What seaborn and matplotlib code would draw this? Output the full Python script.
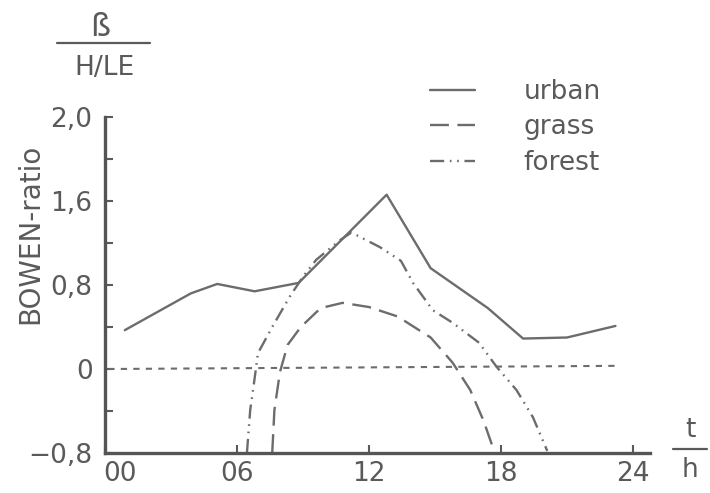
import matplotlib
matplotlib.use("Agg")
import matplotlib.pyplot as plt
import matplotlib.transforms as mtransforms
from matplotlib.lines import Line2D
import seaborn as sns
import pandas as pd

# ---- data ----
urban_h = [0.9, 3.9, 5.1, 6.8, 8.8, 12.8, 14.8, 17.4, 19.0, 21.0, 23.2]
urban_v = [0.37, 0.72, 0.81, 0.74, 0.82, 1.66, 0.96, 0.58, 0.29, 0.30, 0.41]

grass_h = [7.6, 7.7, 7.95, 8.3, 8.9, 9.8, 10.8, 12.0, 13.3, 14.8, 15.8, 16.6, 17.2, 17.65]
grass_v = [-0.80, -0.39, -0.03, 0.23, 0.40, 0.58, 0.63, 0.59, 0.50, 0.30, 0.06, -0.20, -0.49, -0.76]

forest_h = [6.45, 6.6, 6.8, 6.95, 7.6, 8.4, 9.0, 9.6, 10.7, 11.2, 12.5, 13.45, 14.0,
            14.9, 15.8, 17.0, 17.8, 18.7, 19.45, 20.1]
forest_v = [-0.80, -0.39, -0.09, 0.15, 0.40, 0.69, 0.88, 1.04, 1.23, 1.30, 1.16, 1.03, 0.82,
            0.56, 0.44, 0.25, 0.02, -0.20, -0.46, -0.78]

zero_h = [0.15, 23.2]
zero_v = [0.0, 0.03]

series_names = ["urban", "grass", "forest"]
x_ticks = [0, 6, 12, 18, 24]
x_ticklabels = ["00", "06", "12", "18", "24"]
y_ticks_major = [-0.8, 0.0, 0.8, 1.6, 2.4]
y_ticklabels = ["\u22120,8", "0", "0,8", "1,6", "2,0"]
y_ticks_minor = [-0.4, 0.4, 1.2, 2.0]

# ---- style ----
sns.set_style("white")
plt.rcParams["font.family"] = ["DejaVu Sans"]
ink = "#5a5a5a"
line_col = "#6c6c6c"
fs = 19

fig = plt.figure(figsize=(7.1, 4.93), dpi=100)
ax = fig.add_axes([105 / 710, 1 - 453 / 493, 545 / 710, 336 / 493])

lw = 1.7
styles = {
    "urban": dict(linestyle="-"),
    "grass": dict(dashes=(8, 3.6)),
    "forest": dict(dashes=(6, 2.4, 0.7, 2.4, 0.7, 2.4)),
}
data = {
    "urban": (urban_h, urban_v),
    "grass": (grass_h, grass_v),
    "forest": (forest_h, forest_v),
}
for name in series_names:
    h, v = data[name]
    df = pd.DataFrame({"h": h, "v": v})
    sns.lineplot(data=df, x="h", y="v", ax=ax, color=line_col, lw=lw,
                 sort=False, estimator=None, **styles[name])

dfz = pd.DataFrame({"h": zero_h, "v": zero_v})
sns.lineplot(data=dfz, x="h", y="v", ax=ax, color=line_col, lw=1.5,
             sort=False, estimator=None, dashes=(3.0, 3.0))

ax.set_xlim(0, 24.77)
ax.set_ylim(-0.8, 2.4)
ax.set_xlabel("")
ax.set_ylabel("")

for s in ["top", "right"]:
    ax.spines[s].set_visible(False)
for s in ["left", "bottom"]:
    ax.spines[s].set_color("#555555")
    ax.spines[s].set_linewidth(2.4)

ax.set_xticks(x_ticks)
ax.set_xticklabels(x_ticklabels)
ax.set_yticks(y_ticks_major)
ax.set_yticklabels(y_ticklabels)
ax.set_yticks(y_ticks_minor, minor=True)
ax.tick_params(axis="both", which="both", direction="in", colors=ink,
               labelcolor=ink, labelsize=fs, width=1.5, left=True, bottom=True)
ax.tick_params(axis="y", which="both", length=6, pad=9)
ax.tick_params(axis="x", which="major", length=6, pad=6)
# shift "00" label slightly right as in reference
offset = mtransforms.ScaledTranslation(15 / 100, 0, fig.dpi_scale_trans)
ax.get_xticklabels()[0].set_transform(ax.get_xticklabels()[0].get_transform() + offset)

# y axis title
fig.text(30 / 710, 1 - 234 / 493, "BOWEN-ratio", rotation=90, ha="center",
         va="center", fontsize=20, color=ink)

# top-left fraction label
fig.text(100 / 710, 1 - 28 / 493, "ß", ha="center", va="center", fontsize=23, color=ink)
fig.add_artist(Line2D([57 / 710, 150 / 710], [1 - 43 / 493, 1 - 43 / 493],
                      color=ink, lw=1.6, transform=fig.transFigure))
fig.text(104 / 710, 1 - 68 / 493, "H/LE", ha="center", va="center", fontsize=fs, color=ink)

# right x-axis fraction label
fig.text(690 / 710, 1 - 430 / 493, "t", ha="center", va="center", fontsize=fs, color=ink)
fig.add_artist(Line2D([673 / 710, 707 / 710], [1 - 449 / 493, 1 - 449 / 493],
                      color=ink, lw=1.6, transform=fig.transFigure))
fig.text(690 / 710, 1 - 470 / 493, "h", ha="center", va="center", fontsize=fs, color=ink)

# legend
handles = [Line2D([], [], color=line_col, lw=lw, **styles[n]) for n in series_names]
leg = ax.legend(handles, series_names, loc="upper left",
                bbox_to_anchor=(430 / 710, 1 - 79 / 493), bbox_transform=fig.transFigure,
                frameon=False, fontsize=fs, handlelength=1.7, handletextpad=1.85,
                labelspacing=0.36, borderpad=0, borderaxespad=0)
for t in leg.get_texts():
    t.set_color(ink)

fig.savefig("out.png", dpi=100, facecolor="white")
